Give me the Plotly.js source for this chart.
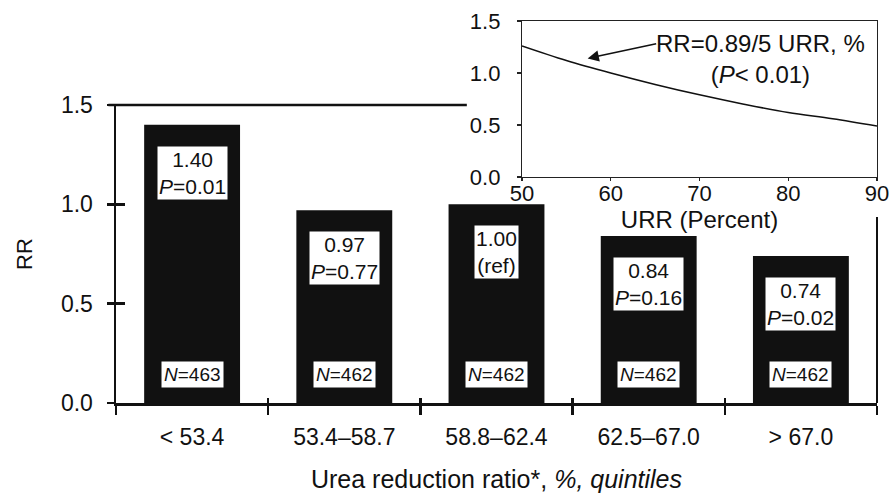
<!DOCTYPE html>
<html>
<head>
<meta charset="utf-8">
<script src="https://cdn.plot.ly/plotly-3.0.1.min.js"></script>
<style>html,body{margin:0;padding:0;background:#fff;}#chart{width:895px;height:496px;}</style>
</head>
<body>
<div id="chart"></div>
<script>
// ---- data ----
const categories = ['< 53.4', '53.4\u201358.7', '58.8\u201362.4', '62.5\u201367.0', '> 67.0'];
const rrValues = [1.40, 0.97, 1.00, 0.84, 0.74];
const pLabels = ['<i>P</i>=0.01', '<i>P</i>=0.77', '(ref)', '<i>P</i>=0.16', '<i>P</i>=0.02'];
const nValues = [463, 462, 462, 462, 462];
const insetURR = [50, 55, 60, 65, 70, 75, 80, 85, 90];
const insetRR = [1.26, 1.12, 1.00, 0.89, 0.79, 0.70, 0.62, 0.56, 0.49];
const yTicks = [0, 0.5, 1.0, 1.5];
const insetXTicks = [50, 60, 70, 80, 90];

const FONT = 'Liberation Sans, Arial, Helvetica, sans-serif';

const traces = [
  {
    type: 'bar', x: categories, y: rrValues, xaxis: 'x', yaxis: 'y',
    width: 0.63, marker: {color: '#111', line: {width: 0}},
    hoverinfo: 'skip', showlegend: false
  },
  { // invisible overlay trace, only to carry the crossing tick marks
    type: 'bar', x: categories, y: rrValues, xaxis: 'x3', yaxis: 'y3',
    width: 0.63, marker: {color: 'rgba(0,0,0,0)'}, hoverinfo: 'skip', showlegend: false
  },
  {
    type: 'scatter', mode: 'lines', x: insetURR, y: insetRR, xaxis: 'x2', yaxis: 'y2',
    line: {color: '#111', width: 1.6, shape: 'spline'}, hoverinfo: 'skip', showlegend: false
  }
];

const annotations = [];
categories.forEach((c, i) => {
  annotations.push({
    xref: 'x', yref: 'y', x: c, y: rrValues[i], yanchor: 'top', yshift: -21,
    text: rrValues[i].toFixed(2) + '<br>' + pLabels[i], showarrow: false,
    bgcolor: '#fff', borderpad: 1, font: {family: FONT, size: 21, color: '#111'}, align: 'center'
  });
  annotations.push({
    xref: 'x', yref: 'y', x: c, y: 0, yanchor: 'bottom', yshift: 15,
    text: '<i>N</i>=' + nValues[i], showarrow: false,
    bgcolor: '#fff', borderpad: 2, font: {family: FONT, size: 19, color: '#111'}
  });
});
// inset formula label and arrow
annotations.push({
  xref: 'x2', yref: 'y2', x: 76.9, y: 1.13, xanchor: 'center', yanchor: 'middle',
  text: 'RR=0.89/5 URR, %<br>(<i>P</i>< 0.01)', showarrow: false,
  font: {family: FONT, size: 24, color: '#111'}, align: 'center'
});
annotations.push({
  xref: 'x2', yref: 'y2', x: 57.4, y: 1.14, ax: 70, ay: -15, text: '',
  showarrow: true, arrowhead: 2, arrowsize: 1.4, arrowwidth: 1.6, arrowcolor: '#111'
});

const mainTop = 0.7801;
const layout = {
  width: 895, height: 496,
  margin: {l: 116, r: 18, t: 21, b: 93, pad: 0},
  paper_bgcolor: '#fff', plot_bgcolor: 'rgba(0,0,0,0)',
  font: {family: FONT, color: '#111'},
  showlegend: false,
  xaxis: {
    domain: [0, 1], anchor: 'y', type: 'category', range: [-0.5, 4.5],
    showline: true, linecolor: '#111', linewidth: 2.5,
    ticks: 'outside', tickson: 'boundaries', ticklen: 9, tickwidth: 2.5, tickcolor: '#111',
    ticklabelstandoff: 12,
    tickfont: {family: FONT, size: 23, color: '#111'},
    showgrid: false, zeroline: false, fixedrange: true,
    title: {text: 'Urea reduction ratio*, <i>%, quintiles</i>', font: {family: FONT, size: 25, color: '#111'}, standoff: 22}
  },
  yaxis: {
    domain: [0, mainTop], anchor: 'x', range: [0, 1.5],
    tickvals: yTicks, tickformat: '.1f',
    showline: true, linecolor: '#111', linewidth: 2.5,
    ticks: 'outside', ticklen: 7, tickwidth: 2.5, tickcolor: '#111',
    ticklabelstandoff: 9,
    tickfont: {family: FONT, size: 23, color: '#111'},
    showgrid: false, zeroline: false, fixedrange: true,
    title: {text: 'RR', font: {family: FONT, size: 22, color: '#111'}, standoff: 22}
  },
  xaxis3: {
    overlaying: 'x', anchor: 'y3', type: 'category', range: [-0.5, 4.5],
    showline: false, ticks: 'inside', tickson: 'boundaries', ticklen: 5, tickwidth: 2.5, tickcolor: '#111',
    showticklabels: false, showgrid: false, zeroline: false, fixedrange: true
  },
  yaxis3: {
    overlaying: 'y', anchor: 'x3', range: [0, 1.5], tickvals: yTicks,
    showline: false, ticks: 'inside', ticklen: 9, tickwidth: 2.5, tickcolor: '#111',
    showticklabels: false, showgrid: false, zeroline: false, fixedrange: true
  },
  xaxis2: {
    domain: [0.5335, 1], anchor: 'y2', range: [50, 90], tickvals: insetXTicks,
    showline: true, mirror: true, linecolor: '#222', linewidth: 1.2,
    ticks: 'outside', ticklen: 3, tickwidth: 1.2, tickcolor: '#222',
    ticklabelstandoff: -7,
    tickfont: {family: FONT, size: 22, color: '#111'},
    showgrid: false, zeroline: false, fixedrange: true,
    title: {text: 'URR (Percent)', font: {family: FONT, size: 24, color: '#111'}, standoff: 0}
  },
  yaxis2: {
    domain: [0.5916, 1], anchor: 'x2', range: [0, 1.5], tickvals: yTicks, tickformat: '.1f',
    showline: true, mirror: true, linecolor: '#222', linewidth: 1.2,
    ticks: 'outside', ticklen: 4, tickwidth: 1.2, tickcolor: '#222',
    ticklabelstandoff: 12,
    tickfont: {family: FONT, size: 22, color: '#111'},
    showgrid: false, zeroline: false, fixedrange: true
  },
  shapes: [
    {type: 'line', xref: 'x domain', yref: 'y domain', x0: -0.01, x1: 0.461, y0: 1, y1: 1,
     line: {color: '#111', width: 2.5}},
    {type: 'line', xref: 'x domain', yref: 'y domain', x0: 1, x1: 1, y0: 0, y1: 0.624,
     line: {color: '#111', width: 2}}
  ],
  annotations: annotations
};

Plotly.newPlot('chart', traces, layout, {displayModeBar: false, staticPlot: true});
</script>
</body>
</html>
